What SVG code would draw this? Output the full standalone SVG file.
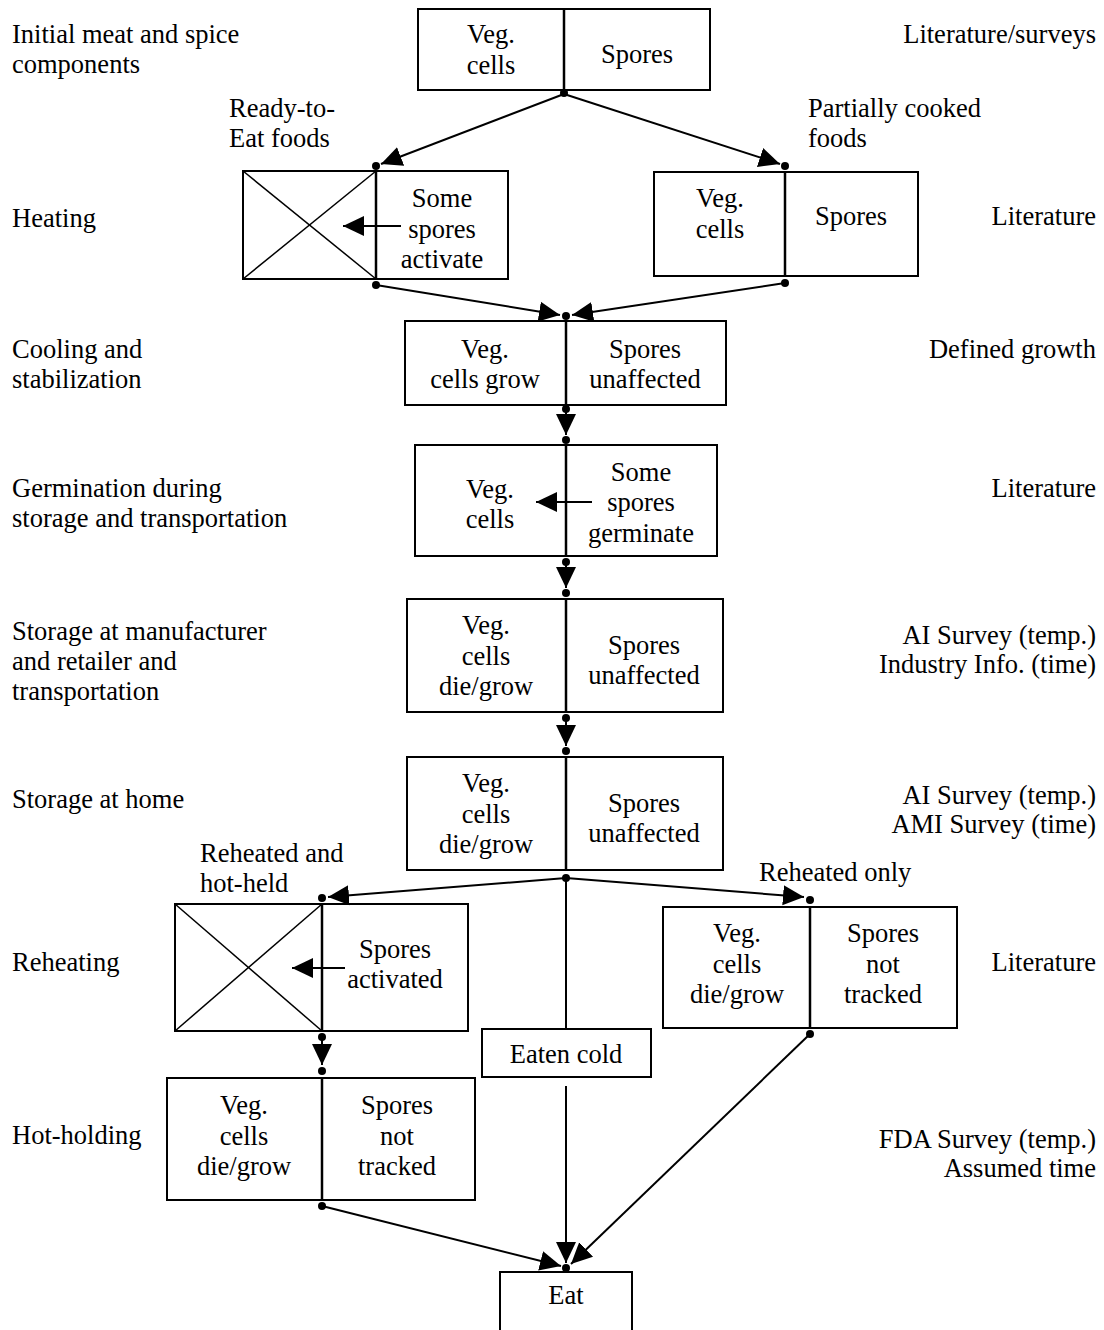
<svg xmlns="http://www.w3.org/2000/svg" width="1104" height="1330" viewBox="0 0 1104 1330">
<style>
text{font-family:"Liberation Serif","Times New Roman",serif;font-size:26.5px;fill:#000}
.c{text-anchor:middle}
.r{text-anchor:end}
.box{fill:#fff;stroke:#000;stroke-width:2}
.div{stroke:#000;stroke-width:2.5}
.x{stroke:#000;stroke-width:1.5}
.ln{fill:none;stroke:#000;stroke-width:2}
</style>
<defs>
<marker id="ah" markerUnits="userSpaceOnUse" markerWidth="22" markerHeight="22" viewBox="0 0 22 22" refX="21" refY="11" orient="auto">
<path d="M0,1 L21,11 L0,21 z" fill="#000"/>
</marker>
</defs>
<rect width="1104" height="1330" fill="#fff"/>

<g id="left-labels">
<text x="12" y="43">Initial meat and spice</text>
<text x="12" y="73">components</text>
<text x="12" y="227">Heating</text>
<text x="12" y="358">Cooling and</text>
<text x="12" y="388">stabilization</text>
<text x="12" y="497">Germination during</text>
<text x="12" y="527">storage and transportation</text>
<text x="12" y="640">Storage at manufacturer</text>
<text x="12" y="670">and retailer and</text>
<text x="12" y="700">transportation</text>
<text x="12" y="808">Storage at home</text>
<text x="12" y="971">Reheating</text>
<text x="12" y="1144">Hot-holding</text>
</g>

<g id="right-labels">
<text class="r" x="1096" y="43">Literature/surveys</text>
<text class="r" x="1096" y="225">Literature</text>
<text class="r" x="1096" y="358">Defined growth</text>
<text class="r" x="1096" y="497">Literature</text>
<text class="r" x="1096" y="644">AI Survey (temp.)</text>
<text class="r" x="1096" y="673">Industry Info. (time)</text>
<text class="r" x="1096" y="804">AI Survey (temp.)</text>
<text class="r" x="1096" y="833">AMI Survey (time)</text>
<text class="r" x="1096" y="971">Literature</text>
<text class="r" x="1096" y="1148">FDA Survey (temp.)</text>
<text class="r" x="1096" y="1177">Assumed time</text>
</g>

<g id="branch-labels">
<text x="229" y="117">Ready-to-</text>
<text x="229" y="147">Eat foods</text>
<text x="808" y="117">Partially cooked</text>
<text x="808" y="147">foods</text>
<text x="200" y="862">Reheated and</text>
<text x="200" y="892">hot-held</text>
<text x="759" y="881">Reheated only</text>
</g>

<g id="node-initial">
<rect class="box" x="418" y="9" width="292" height="81"/>
<line class="div" x1="564" y1="9" x2="564" y2="90"/>
<text class="c" x="491" y="43">Veg.</text>
<text class="c" x="491" y="74">cells</text>
<text class="c" x="637" y="63">Spores</text>
</g>

<g id="node-heating-rte">
<rect class="box" x="243" y="171" width="265" height="108"/>
<line class="x" x1="243" y1="171" x2="376" y2="279"/>
<line class="x" x1="243" y1="279" x2="376" y2="171"/>
<line class="div" x1="376" y1="171" x2="376" y2="279"/>
<text class="c" x="442" y="207">Some</text>
<text class="c" x="442" y="238">spores</text>
<text class="c" x="442" y="268">activate</text>
<line class="ln" x1="401" y1="226" x2="343" y2="226" marker-end="url(#ah)"/>
</g>

<g id="node-heating-pc">
<rect class="box" x="654" y="172" width="264" height="104"/>
<line class="div" x1="785" y1="172" x2="785" y2="276"/>
<text class="c" x="720" y="207">Veg.</text>
<text class="c" x="720" y="238">cells</text>
<text class="c" x="851" y="225">Spores</text>
</g>

<g id="node-cooling">
<rect class="box" x="405" y="321" width="321" height="84"/>
<line class="div" x1="566" y1="321" x2="566" y2="405"/>
<text class="c" x="485" y="358">Veg.</text>
<text class="c" x="485" y="388">cells grow</text>
<text class="c" x="645" y="358">Spores</text>
<text class="c" x="645" y="388">unaffected</text>
</g>

<g id="node-germination">
<rect class="box" x="415" y="445" width="302" height="111"/>
<line class="div" x1="566" y1="445" x2="566" y2="556"/>
<text class="c" x="490" y="498">Veg.</text>
<text class="c" x="490" y="528">cells</text>
<text class="c" x="641" y="481">Some</text>
<text class="c" x="641" y="511">spores</text>
<text class="c" x="641" y="542">germinate</text>
<line class="ln" x1="592" y1="502" x2="536" y2="502" marker-end="url(#ah)"/>
</g>

<g id="node-storage-manu">
<rect class="box" x="407" y="599" width="316" height="113"/>
<line class="div" x1="566" y1="599" x2="566" y2="712"/>
<text class="c" x="486" y="634">Veg.</text>
<text class="c" x="486" y="665">cells</text>
<text class="c" x="486" y="695">die/grow</text>
<text class="c" x="644" y="654">Spores</text>
<text class="c" x="644" y="684">unaffected</text>
</g>

<g id="node-storage-home">
<rect class="box" x="407" y="757" width="316" height="113"/>
<line class="div" x1="566" y1="757" x2="566" y2="870"/>
<text class="c" x="486" y="792">Veg.</text>
<text class="c" x="486" y="823">cells</text>
<text class="c" x="486" y="853">die/grow</text>
<text class="c" x="644" y="812">Spores</text>
<text class="c" x="644" y="842">unaffected</text>
</g>

<g id="node-reheat-hot">
<rect class="box" x="175" y="904" width="293" height="127"/>
<line class="x" x1="175" y1="904" x2="322" y2="1031"/>
<line class="x" x1="175" y1="1031" x2="322" y2="904"/>
<line class="div" x1="322" y1="904" x2="322" y2="1031"/>
<text class="c" x="395" y="958">Spores</text>
<text class="c" x="395" y="988">activated</text>
<line class="ln" x1="345" y1="968" x2="292" y2="968" marker-end="url(#ah)"/>
</g>

<g id="node-reheat-only">
<rect class="box" x="663" y="907" width="294" height="121"/>
<line class="div" x1="810" y1="907" x2="810" y2="1028"/>
<text class="c" x="737" y="942">Veg.</text>
<text class="c" x="737" y="973">cells</text>
<text class="c" x="737" y="1003">die/grow</text>
<text class="c" x="883" y="942">Spores</text>
<text class="c" x="883" y="973">not</text>
<text class="c" x="883" y="1003">tracked</text>
</g>

<g id="node-eaten-cold">
<rect class="box" x="482" y="1029" width="169" height="48"/>
<text class="c" x="566" y="1063">Eaten cold</text>
</g>

<g id="node-hot-holding">
<rect class="box" x="167" y="1078" width="308" height="122"/>
<line class="div" x1="322" y1="1078" x2="322" y2="1200"/>
<text class="c" x="244" y="1114">Veg.</text>
<text class="c" x="244" y="1145">cells</text>
<text class="c" x="244" y="1175">die/grow</text>
<text class="c" x="397" y="1114">Spores</text>
<text class="c" x="397" y="1145">not</text>
<text class="c" x="397" y="1175">tracked</text>
</g>

<g id="node-eat">
<rect class="box" x="500" y="1272" width="132" height="70"/>
<text class="c" x="566" y="1304">Eat</text>
</g>

<g id="connectors">
<line class="ln" x1="564" y1="94" x2="381" y2="164" marker-end="url(#ah)"/>
<line class="ln" x1="564" y1="94" x2="780" y2="164" marker-end="url(#ah)"/>
<line class="ln" x1="376" y1="285" x2="560" y2="315" marker-end="url(#ah)"/>
<line class="ln" x1="785" y1="283" x2="572" y2="315" marker-end="url(#ah)"/>
<line class="ln" x1="566" y1="409" x2="566" y2="435" marker-end="url(#ah)"/>
<line class="ln" x1="566" y1="562" x2="566" y2="588" marker-end="url(#ah)"/>
<line class="ln" x1="566" y1="718" x2="566" y2="746" marker-end="url(#ah)"/>
<line class="ln" x1="566" y1="878" x2="328" y2="897" marker-end="url(#ah)"/>
<line class="ln" x1="566" y1="878" x2="804" y2="897" marker-end="url(#ah)"/>
<line class="ln" x1="566" y1="878" x2="566" y2="1029"/>
<line class="ln" x1="322" y1="1037" x2="322" y2="1065" marker-end="url(#ah)"/>
<line class="ln" x1="566" y1="1086" x2="566" y2="1263" marker-end="url(#ah)"/>
<line class="ln" x1="322" y1="1206" x2="561" y2="1266" marker-end="url(#ah)"/>
<line class="ln" x1="810" y1="1034" x2="571" y2="1264" marker-end="url(#ah)"/>
<g fill="#000">
<circle cx="564" cy="93" r="4"/>
<circle cx="376" cy="166" r="4"/>
<circle cx="785" cy="166" r="4"/>
<circle cx="376" cy="285" r="4"/>
<circle cx="785" cy="283" r="4"/>
<circle cx="566" cy="316" r="4"/>
<circle cx="566" cy="409" r="4"/>
<circle cx="566" cy="440" r="4"/>
<circle cx="566" cy="562" r="4"/>
<circle cx="566" cy="593" r="4"/>
<circle cx="566" cy="718" r="4"/>
<circle cx="566" cy="751" r="4"/>
<circle cx="566" cy="878" r="4"/>
<circle cx="322" cy="898" r="4"/>
<circle cx="810" cy="900" r="4"/>
<circle cx="322" cy="1037" r="4"/>
<circle cx="322" cy="1071" r="4"/>
<circle cx="322" cy="1206" r="4"/>
<circle cx="810" cy="1034" r="4"/>
<circle cx="566" cy="1268" r="4"/>
</g>
</g>
</svg>
